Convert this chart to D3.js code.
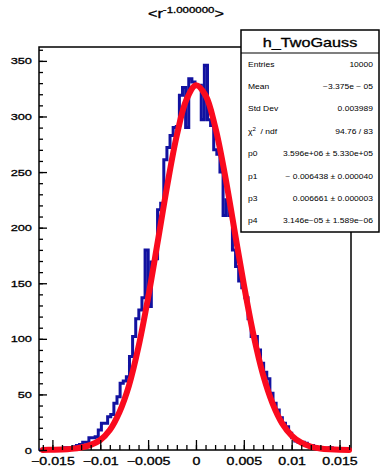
<!DOCTYPE html>
<html>
<head>
<meta charset="utf-8">
<script src="https://cdn.jsdelivr.net/npm/d3@7"></script>
<style>
  body { margin: 0; background: #fff; }
  svg { display: block; }
  text { font-family: "Liberation Sans", Arial, Helvetica, sans-serif; fill: #000; }
  .heavy text, text.heavy { stroke: #000; stroke-width: 0.3px; }
</style>
</head>
<body>
<svg id="chart"></svg>
<script>
// histogram h_TwoGauss: 100 bins on [xMin, xMax]
var xMin = -0.0164, xMax = 0.0162, yMax = 362.5;

var counts = [
    0, 0, 0, 1, 0, 1, 0, 1, 2, 1,
    2, 3, 4, 5, 7, 7, 11, 11, 12, 18,
    24, 24, 30, 32, 42, 48, 60, 62, 66, 84,
    102, 118, 126, 137, 180, 129, 169, 172, 216, 222,
    261, 272, 283, 290, 291, 319, 326, 290, 334, 331,
    328, 328, 297, 346, 297, 292, 270, 266, 250, 211,
    225, 211, 180, 165, 152, 146, 137, 118, 102, 102,
    90, 78, 70, 64, 51, 42, 36, 29, 24, 21,
    15, 11, 8, 7, 7, 6, 4, 4, 3, 2,
    2, 1, 1, 2, 1, 0, 1, 0, 0, 0
];

// fitted function sampled every 0.001 from -0.016 to 0.016
var fitY = [
    0.1, 0.2, 0.4, 1.0, 2.2, 4.6, 9, 18, 34, 58, 93,
    137, 187, 238, 283, 315, 328, 319, 291, 249, 199,
    149, 104, 68, 42, 24, 13, 6.6, 3.1, 1.4, 0.6, 0.2, 0.1
];

var yTicks = [0, 50, 100, 150, 200, 250, 300, 350];
var xTicks = [-0.015, -0.01, -0.005, 0, 0.005, 0.01, 0.015];
var xTickLabels = ["\u22120.015", "\u22120.01", "\u22120.005", "0", "0.005", "0.01", "0.015"];

var statNames = ["Entries", "Mean", "Std Dev", "chi2", "p0", "p1", "p3", "p4"];
var statValues = [
    "10000",
    "\u22123.375e \u2212 05",
    "0.003989",
    "94.76 / 83",
    "3.596e+06 \u00b1 5.330e+05",
    "\u2212 0.006438 \u00b1 0.000040",
    "0.006661 \u00b1 0.000003",
    "3.146e\u221205 \u00b1 1.589e\u221206"
];

var width = 380, height = 468;
var frame = {left: 39, right: 351, top: 47, bottom: 450};
var stretch = 1.35;   // ROOT text comes out wide

var svg = d3.select("#chart").attr("width", width).attr("height", height);

var x = d3.scaleLinear().domain([xMin, xMax]).range([frame.left, frame.right]);
var y = d3.scaleLinear().domain([0, yMax]).range([frame.bottom, frame.top]);

// frame
svg.append("rect")
    .attr("x", frame.left).attr("y", frame.top)
    .attr("width", frame.right - frame.left)
    .attr("height", frame.bottom - frame.top)
    .attr("fill", "none").attr("stroke", "#000").attr("stroke-width", 1.5);

// histogram outline
var binWidth = (xMax - xMin) / counts.length;
var steps = counts.map(function (c, i) { return [xMin + i * binWidth, c]; });
steps.push([xMax, counts[counts.length - 1]]);

var histLine = d3.line()
    .x(function (d) { return x(d[0]); })
    .y(function (d) { return y(d[1]); })
    .curve(d3.curveStepAfter);

svg.append("path")
    .datum(steps)
    .attr("d", histLine)
    .attr("fill", "none")
    .attr("stroke", "#1212a0")
    .attr("stroke-width", 3);

// fit curve
var fitLine = d3.line()
    .x(function (d, i) { return x(-0.016 + i * 0.001); })
    .y(function (d) { return y(d); })
    .curve(d3.curveCatmullRom);

svg.append("path")
    .datum(fitY)
    .attr("d", fitLine)
    .attr("fill", "none")
    .attr("stroke", "#fa0a1e")
    .attr("stroke-width", 6)
    .attr("stroke-linecap", "round");

// y axis, ticks pointing into the frame
var gyMinor = svg.append("g").attr("transform", "translate(" + frame.left + ",0)")
    .call(d3.axisLeft(y).tickValues(d3.range(0, 361, 10)).tickSize(-4).tickFormat(""));
gyMinor.select(".domain").remove();

var gy = svg.append("g").attr("class", "heavy").attr("transform", "translate(" + frame.left + ",0)")
    .call(d3.axisLeft(y).tickValues(yTicks).tickSizeInner(-8).tickSizeOuter(0)
        .tickPadding(5.2).tickFormat(d3.format("d")));
gy.select(".domain").remove();
gy.selectAll("text")
    .attr("transform", "scale(" + stretch + ",1)")
    .style("font-size", "9.5px");

// x axis
var gxMinor = svg.append("g").attr("transform", "translate(0," + frame.bottom + ")")
    .call(d3.axisBottom(x).tickValues(d3.range(-16, 17).map(function (d) { return d / 1000; }))
        .tickSize(-5).tickFormat(""));
gxMinor.select(".domain").remove();

var gx = svg.append("g").attr("class", "heavy").attr("transform", "translate(0," + frame.bottom + ")")
    .call(d3.axisBottom(x).tickValues(xTicks).tickSizeInner(-10).tickSizeOuter(0)
        .tickPadding(8).tickFormat(function (d, i) { return xTickLabels[i]; }));
gx.select(".domain").remove();
gx.selectAll("text")
    .attr("transform", "scale(" + stretch + ",1)")
    .style("font-size", "10.5px");
svg.selectAll(".tick line").attr("stroke", "#000").attr("stroke-width", 1.3);

// title
var title = svg.append("text")
    .attr("class", "heavy")
    .attr("transform", "translate(148,18) scale(" + stretch + ",1)")
    .style("font-size", "12px");
title.append("tspan").text("<r");
title.append("tspan").attr("dy", -5).style("font-size", "8.5px").text("-1.000000");
title.append("tspan").attr("dy", 5).text(">");

// stats box
var box = svg.append("g");
box.append("rect")
    .attr("x", 241).attr("y", 30).attr("width", 138).attr("height", 202)
    .attr("fill", "#fff").attr("stroke", "#000").attr("stroke-width", 1.5);
box.append("line")
    .attr("x1", 241).attr("x2", 379).attr("y1", 53).attr("y2", 53)
    .attr("stroke", "#000").attr("stroke-width", 1.2);
box.append("text")
    .attr("class", "heavy")
    .attr("transform", "translate(310,46.5) scale(" + stretch + ",1)")
    .attr("text-anchor", "middle")
    .style("font-size", "12px")
    .text("h_TwoGauss");

statNames.forEach(function (name, i) {
    var yy = 66.5 + i * 22.4;
    var lab = box.append("text")
        .attr("transform", "translate(248," + yy + ") scale(" + stretch + ",1)")
        .style("font-size", "6.3px");
    if (name === "chi2") {
        lab.append("tspan").text("\u03c7");
        lab.append("tspan").attr("dy", -2.5).style("font-size", "4.5px").text("2");
        lab.append("tspan").attr("dy", 2.5).style("white-space", "pre").text("  / ndf");
    } else {
        lab.text(name);
    }
    box.append("text")
        .attr("transform", "translate(373," + yy + ") scale(" + stretch + ",1)")
        .attr("text-anchor", "end")
        .style("font-size", "6.3px")
        .style("white-space", "pre")
        .text(statValues[i]);
});
</script>
</body>
</html>
